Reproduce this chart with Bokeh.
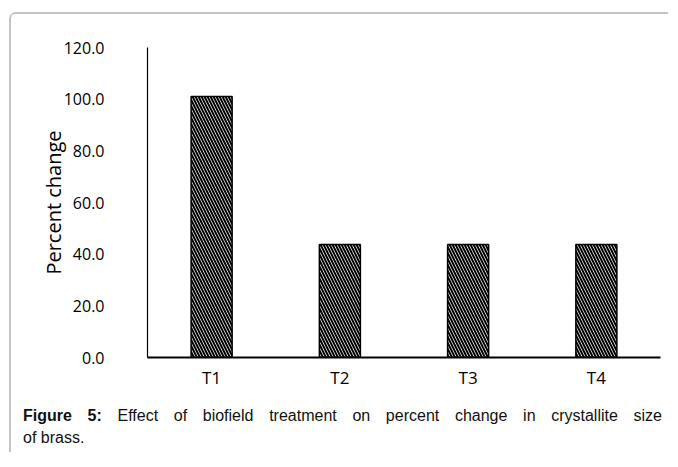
from bokeh.plotting import figure
from bokeh.models import (FixedTicker, NumeralTickFormatter, Range1d, FactorRange,
                          ColumnDataSource, Div)
from bokeh.layouts import column
from bokeh.embed import file_html
from bokeh.resources import INLINE

categories = ["T1", "T2", "T3", "T4"]
percent_change = [101.0, 43.7, 43.7, 43.7]
y_ticks = [0, 20, 40, 60, 80, 100, 120]
caption_bold = "Figure 5:"
caption_line1 = "Effect of biofield treatment on percent change in crystallite size"
caption_line2 = "of brass."

# content origin (inside the grey frame)
OX, OY = 11, 14
W = 657
H = 390
AX_LEFT, AX_TOP, AX_RIGHT, AX_ZERO = 147, 47, 660, 357

p = figure(x_range=FactorRange(*categories), y_range=Range1d(0, 120),
           width=W, height=H, output_backend="svg", toolbar_location=None,
           min_border_left=AX_LEFT - OX, min_border_right=W - (AX_RIGHT - OX),
           min_border_top=AX_TOP - OY, min_border_bottom=H - (AX_ZERO - OY))
p.background_fill_color = "white"
p.border_fill_color = "white"
p.outline_line_color = None
p.xgrid.visible = False
p.ygrid.visible = False

src = ColumnDataSource(dict(cat=categories, val=percent_change))
p.vbar(x="cat", top="val", width=0.32, source=src, fill_color="white",
       line_color="black", line_width=1.5, hatch_pattern="\\", hatch_color="black",
       hatch_scale=6, hatch_weight=2.0)

FONT = "Open Sans"
ya = p.yaxis[0]
ya.ticker = FixedTicker(ticks=y_ticks)
ya.formatter = NumeralTickFormatter(format="0.0")
ya.major_tick_line_color = None
ya.minor_tick_line_color = None
ya.major_tick_out = 0
ya.major_tick_in = 0
ya.major_label_standoff = 43
ya.major_label_text_font = FONT
ya.major_label_text_font_size = "16px"
ya.major_label_text_color = "black"
ya.axis_line_color = "black"
ya.axis_line_width = 1.2
ya.axis_label = "Percent change"
ya.axis_label_text_font = FONT
ya.axis_label_text_font_size = "20px"
ya.axis_label_text_font_style = "normal"
ya.axis_label_text_color = "black"
ya.axis_label_standoff = -6

xa = p.xaxis[0]
xa.major_tick_line_color = None
xa.minor_tick_line_color = None
xa.major_tick_out = 0
xa.major_tick_in = 0
xa.major_label_standoff = 8
xa.major_label_text_font = FONT
xa.major_label_text_font_size = "17px"
xa.major_label_text_color = "black"
xa.axis_line_color = "black"
xa.axis_line_width = 1.8

CAP_LEFT, CAP_RIGHT = 23, 662
cap_style = ("font-family:'Liberation Sans',Arial,sans-serif;font-size:16px;"
             "line-height:22px;color:#111111;")
html = (f'<div style="margin-left:{CAP_LEFT - OX}px;width:{CAP_RIGHT - CAP_LEFT}px;'
        f'padding-top:1px;{cap_style}">'
        f'<div style="text-align:justify;text-align-last:justify;">'
        f'<b>{caption_bold}</b> {caption_line1}</div>'
        f'<div>{caption_line2}</div></div>')
cap = Div(text=html, width=W, height=48, margin=(0, 0, 0, 0))

layout = column(p, cap, margin=(OY - 2, 0, 0, OX - 2),
                styles={"border-left": "2px solid #c4c4c4",
                        "border-top": "2px solid #c4c4c4",
                        "border-top-left-radius": "7px",
                        "background-color": "white"})

open("out.html", "w").write(file_html(layout, INLINE))
